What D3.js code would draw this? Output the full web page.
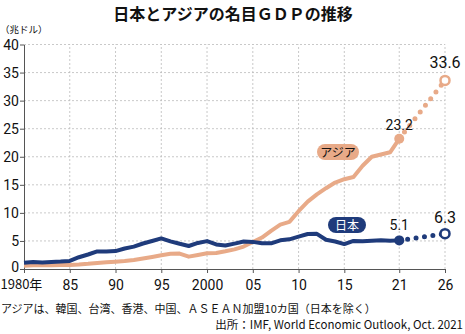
<!DOCTYPE html>
<html>
<head>
<meta charset="utf-8">
<script src="https://cdn.jsdelivr.net/npm/d3@7"></script>
<style>
  body { margin: 0; background: #fff; }
  svg { display: block; }
  text { font-family: "Noto Sans CJK JP", "Noto Sans", sans-serif; fill: #111; }
  .num { font-family: "Liberation Sans Narrow", "Roboto", "Noto Sans", sans-serif; }
</style>
</head>
<body>
<script>
// 実績 1980〜2021年（兆ドル）
const years = d3.range(1980, 2022)
const japan = [1.13, 1.24, 1.16, 1.26, 1.32, 1.43, 2.10, 2.58, 3.13, 3.12,
  3.19, 3.65, 3.99, 4.54, 4.99, 5.45, 4.92, 4.49, 4.10, 4.64,
  4.97, 4.37, 4.18, 4.52, 4.89, 4.83, 4.60, 4.58, 5.11, 5.29,
  5.76, 6.23, 6.27, 5.21, 4.90, 4.44, 5.00, 4.93, 5.04, 5.12,
  5.04, 5.10]
const asia = [0.60, 0.65, 0.65, 0.68, 0.70, 0.72, 0.80, 0.92, 1.08, 1.20,
  1.30, 1.42, 1.62, 1.88, 2.15, 2.45, 2.70, 2.75, 2.20, 2.50,
  2.80, 2.85, 3.15, 3.50, 4.00, 4.80, 5.60, 6.80, 7.90, 8.40,
  10.3, 12.0, 13.3, 14.4, 15.4, 16.0, 16.4, 18.4, 20.0, 20.4,
  20.8, 23.2]
// 予測（2021→2026）
const forecastYears = [2021, 2026]
const japanForecast = [5.1, 6.3]
const asiaForecast = [23.2, 33.6]

const yTicks = [0, 5, 10, 15, 20, 25, 30, 35, 40]
const xTicks = [1980, 1985, 1990, 1995, 2000, 2005, 2010, 2015, 2021, 2026]
const xTickLabels = ['1980年', '85', '90', '95', '2000', '05', '10', '15', '21', '26']

const W = 465, H = 334
const color = { japan: '#1f3b7b', asia: '#e8aa88' }

const svg = d3.select('body').append('svg')
  .attr('width', W)
  .attr('height', H)

const x = d3.scaleLinear().domain([1980, 2026]).range([24, 445])
const y = d3.scaleLinear().domain([0, 40]).range([269, 44.5])

// タイトル
svg.append('text')
  .attr('x', 233).attr('y', 20)
  .attr('text-anchor', 'middle')
  .style('font-size', '16px').style('font-weight', 'bold')
  .text('日本とアジアの名目ＧＤＰの推移')

svg.append('text')
  .attr('x', 0).attr('y', 33)
  .style('font-size', '9.5px')
  .text('（兆ドル）')

// グリッド（点線）
svg.append('g').selectAll('line.h')
  .data(yTicks.slice(1))
  .join('line')
  .attr('x1', x(1980)).attr('x2', x(2026))
  .attr('y1', d => y(d)).attr('y2', d => y(d))
  .attr('stroke', '#bbb').attr('stroke-width', 0.8)
  .attr('stroke-dasharray', '2,2')
svg.append('g').selectAll('line.v')
  .data(xTicks.slice(1))
  .join('line')
  .attr('x1', d => x(d)).attr('x2', d => x(d))
  .attr('y1', y(0)).attr('y2', y(40))
  .attr('stroke', '#bbb').attr('stroke-width', 0.8)
  .attr('stroke-dasharray', '2,2')

// 軸
const yAxis = svg.append('g')
  .attr('transform', `translate(${x(1980)},0)`)
  .call(d3.axisLeft(y).tickValues(yTicks).tickSize(4).tickSizeOuter(0))
const xAxis = svg.append('g')
  .attr('transform', `translate(0,${y(0)})`)
  .call(d3.axisBottom(x).tickValues(xTicks).tickSize(4).tickSizeOuter(0)
    .tickFormat((d, i) => xTickLabels[i]))
;[yAxis, xAxis].forEach(g => {
  g.select('.domain').attr('stroke', '#555')
  g.selectAll('.tick line').attr('stroke', '#555')
  g.selectAll('text').attr('class', 'num')
    .style('font-size', '14px').attr('fill', '#111')
})
yAxis.selectAll('text').attr('x', -5).attr('dy', '0.35em')
yAxis.selectAll('.tick').filter(d => d === 0).select('text').attr('dy', '0.2em')
xAxis.selectAll('text').attr('y', 11)
xAxis.selectAll('.tick').filter(d => d === 1980).select('text')
  .attr('text-anchor', 'start').attr('x', -24)
  .style('font-family', '"Noto Sans CJK JP", sans-serif').style('font-size', '13px')

// 線
const line = d3.line().x(d => x(d[0])).y(d => y(d[1]))

function drawSeries(vals, fc, col) {
  svg.append('path')
    .datum(years.map((yr, i) => [yr, vals[i]]))
    .attr('d', line)
    .attr('fill', 'none')
    .attr('stroke', col)
    .attr('stroke-width', 4)
    .attr('stroke-linejoin', 'round')
  const fcPts = forecastYears.map((yr, i) => [yr, fc[i]])
  svg.append('path')
    .datum(fcPts)
    .attr('d', line)
    .attr('fill', 'none')
    .attr('stroke', col)
    .attr('stroke-width', 5)
    .attr('stroke-linecap', 'round')
    .attr('stroke-dasharray', '0,8.5')
  svg.append('circle')
    .attr('cx', x(fcPts[0][0])).attr('cy', y(fcPts[0][1]))
    .attr('r', 5).attr('fill', col)
  svg.append('circle')
    .attr('cx', x(fcPts[1][0])).attr('cy', y(fcPts[1][1]))
    .attr('r', 4.5).attr('fill', '#fff')
    .attr('stroke', col).attr('stroke-width', 2.5)
}
drawSeries(asia, asiaForecast, color.asia)
drawSeries(japan, japanForecast, color.japan)

// 数値ラベル
const valLabels = [
  { yr: 2021, v: asiaForecast[0], dy: -9 },
  { yr: 2026, v: asiaForecast[1], dy: -12 },
  { yr: 2021, v: japanForecast[0], dy: -10 },
  { yr: 2026, v: japanForecast[1], dy: -11 }
]
svg.append('g').selectAll('text')
  .data(valLabels)
  .join('text')
  .attr('class', 'num')
  .attr('x', d => x(d.yr)).attr('y', d => y(d.v) + d.dy)
  .attr('text-anchor', 'middle')
  .style('font-size', d => d.yr === 2026 ? '16px' : '14px')
  .text(d => d.v.toFixed(1))

// 系列ラベル（角丸）
function pill(cx, cy, w, txt, bg, fg) {
  svg.append('rect')
    .attr('x', cx - w / 2).attr('y', cy - 8)
    .attr('width', w).attr('height', 16)
    .attr('rx', 8).attr('ry', 8)
    .attr('fill', bg)
  svg.append('text')
    .attr('x', cx).attr('y', cy + 4.5)
    .attr('text-anchor', 'middle')
    .style('font-size', '12px')
    .style('fill', fg)
    .text(txt)
}
pill(338, 152, 42, 'アジア', color.asia, '#111')
pill(347, 225, 38, '日本', color.japan, '#fff')

// 注記
svg.append('text')
  .attr('x', 1).attr('y', 313)
  .style('font-size', '11px')
  .text('アジアは、韓国、台湾、香港、中国、ＡＳＥＡＮ加盟10カ国（日本を除く）')
svg.append('text')
  .attr('x', 463).attr('y', 329)
  .attr('text-anchor', 'end')
  .style('font-size', '11.5px')
  .text('出所：IMF, World Economic Outlook, Oct. 2021')
</script>
</body>
</html>
